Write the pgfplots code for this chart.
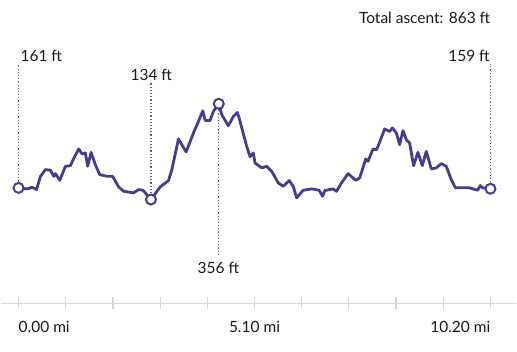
\documentclass[border=0pt]{standalone}
\usepackage{pgfplots}
\pgfplotsset{compat=1.18}
\usepackage{fontspec}
\setmainfont{Lato}
\definecolor{route}{RGB}{72,60,140}
\definecolor{dotc}{RGB}{100,92,150}
\definecolor{axgray}{RGB}{214,214,214}
\definecolor{txt}{RGB}{25,25,25}
\begin{document}
\begin{tikzpicture}
\begin{axis}[
  scale only axis, width=517pt, height=304pt,
  xmin=-0.388, xmax=10.761, ymin=-106.5, ymax=596.5,
  axis y line=none, axis x line*=bottom,
  x axis line style={axgray, line width=1.2pt},
  xtick={0,1.02,2.04,3.06,4.08,5.1,6.12,7.14,8.16,9.18,10.2},
  xticklabels={},
  tick align=center, major tick length=12pt,
  tick style={axgray, line width=1.2pt},
  clip=false,
  font=\fontsize{15.5}{18}\selectfont,
]
\addplot[route, line width=2.8pt, line join=round] coordinates {
(0,161) (0.188,158.7) (0.295,162.4) (0.388,157.1) (0.474,187.9) (0.582,203.4)
(0.690,201.8) (0.761,187.9) (0.798,194.1) (0.891,178.6) (1.013,211) (1.121,212.6)
(1.180,226.5) (1.300,251.2) (1.374,239.7) (1.445,242) (1.494,211) (1.568,243.4)
(1.660,214.9) (1.753,191.8) (1.913,187.9) (2.033,187.9) (2.163,163.4) (2.271,153.2)
(2.486,149.5) (2.594,157.1) (2.689,155.5) (2.862,134) (3.062,163.4) (3.241,177.9)
(3.314,203.4) (3.457,274.4) (3.623,244.3) (3.780,288.2) (3.888,315.1) (3.983,339.8)
(4.032,317.4) (4.140,317.4) (4.211,338.2) (4.328,356) (4.393,330.6) (4.535,305.1)
(4.643,326.6) (4.729,335.9) (4.766,323.6) (4.932,257.3) (5.003,233.4) (5.074,242)
(5.111,218.9) (5.255,207.3) (5.363,211) (5.471,199.4) (5.613,172.6) (5.721,164.8)
(5.850,177.9) (5.937,164.8) (6.010,137.9) (6.152,155.5) (6.333,158.7) (6.497,155.5)
(6.571,141.6) (6.620,154.8) (6.799,158.7) (6.872,153.2) (6.980,172.6) (7.123,194.1)
(7.289,178.6) (7.375,184.2) (7.504,228.1) (7.554,222.6) (7.662,251.2) (7.735,249.6)
(7.770,257.3) (7.914,297.5) (8.022,291.9) (8.080,299.8) (8.166,288.2) (8.237,261.2)
(8.309,293.6) (8.382,272.8) (8.453,265.1) (8.539,212.6) (8.632,243.4) (8.727,212.6)
(8.813,245.7) (8.921,205) (9.029,207.3) (9.137,217.3) (9.245,211) (9.352,180.3)
(9.445,161.1) (9.602,161.1) (9.747,161.1) (9.926,155.5) (9.978,166.4) (10.034,161.1)
(10.2,159)
};
% dotted leader lines
\addplot[dotc, line width=1.2pt, dash pattern=on 1.2pt off 2pt] coordinates {(0,161) (0,448)};
\addplot[dotc, line width=1.2pt, dash pattern=on 1.2pt off 2pt] coordinates {(2.862,134) (2.862,404)};
\addplot[dotc, line width=1.2pt, dash pattern=on 1.2pt off 2pt] coordinates {(4.328,356) (4.328,7)};
\addplot[dotc, line width=1.2pt, dash pattern=on 1.2pt off 2pt] coordinates {(10.2,159) (10.2,448)};
% markers
\addplot[only marks, route, mark=*, mark size=5pt, mark options={fill=white, draw=route, line width=2pt}]
 coordinates {(0,161) (2.862,134) (4.328,356) (10.2,159)};
% labels
\node[txt, anchor=base west, inner sep=0pt] at (axis cs:0.04,454) {161 ft};
\node[txt, anchor=base, inner sep=0pt] at (axis cs:2.87,409) {134 ft};
\node[txt, anchor=base east, inner sep=0pt] at (axis cs:10.19,454) {159 ft};
\node[txt, anchor=base, inner sep=0pt] at (axis cs:4.32,-37) {356 ft};
\node[txt, anchor=base east, inner sep=0pt] at (axis cs:10.2,543) {Total ascent: 863 ft};
\node[txt, anchor=base west, inner sep=0pt] at (axis cs:0,-174) {0.00 mi};
\node[txt, anchor=base, inner sep=0pt] at (axis cs:5.1,-174) {5.10 mi};
\node[txt, anchor=base east, inner sep=0pt] at (axis cs:10.2,-174) {10.20 mi};
\path (axis description cs:0,1) -- (axis description cs:1,1);
\path (axis description cs:0,0) ++(0pt,-48pt);
\end{axis}
\end{tikzpicture}
\end{document}
